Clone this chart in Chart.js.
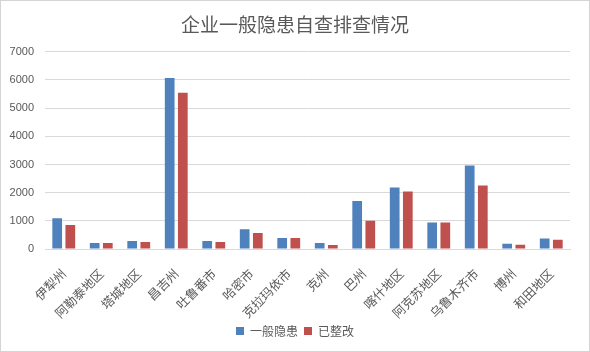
<!DOCTYPE html>
<html>
<head>
<meta charset="utf-8">
<script src="https://cdn.jsdelivr.net/npm/chart.js@4.4.1/dist/chart.umd.min.js"></script>
<style>
  html, body { margin: 0; padding: 0; background: #fff; }
  #wrap { width: 588px; height: 350px; border: 1px solid #d4d4d4; }
  canvas { display: block; }
</style>
</head>
<body>
<div id="wrap"><canvas id="chart" width="588" height="350"></canvas></div>
<script>
const TITLE      = "企业一般隐患自查排查情况";
const REGIONS    = ["伊犁州", "阿勒泰地区", "塔城地区", "昌吉州", "吐鲁番市", "哈密市", "克拉玛依市", "克州",
                    "巴州", "喀什地区", "阿克苏地区", "乌鲁木齐市", "博州", "和田地区"];
const HAZARDS    = [1090, 210, 280, 6070, 280, 700, 390, 210, 1700, 2180, 940, 2960, 190, 370];
const RECTIFIED  = [850, 210, 250, 5550, 250, 570, 390, 140, 1000, 2040, 940, 2250, 150, 330];
const Y_TICKS    = [0, 1000, 2000, 3000, 4000, 5000, 6000, 7000];

const TEXT_GREY = "#595959";
const GRID_GREY = "#d9d9d9";

const ctx = document.getElementById("chart").getContext("2d");
new Chart(ctx, {
  type: "bar",
  data: {
    labels: REGIONS,
    datasets: [
      { label: "一般隐患", data: HAZARDS,   backgroundColor: "#4f81bd" },
      { label: "已整改",   data: RECTIFIED, backgroundColor: "#c0504d" }
    ]
  },
  options: {
    responsive: false,
    animation: false,
    categoryPercentage: 0.7,
    barPercentage: 0.74,
    layout: { padding: { left: 0, right: 0, top: 0, bottom: 4 } },
    plugins: {
      title: {
        display: true,
        text: TITLE,
        color: TEXT_GREY,
        font: { family: "Noto Sans CJK SC", size: 19, weight: "normal" },
        padding: { top: 12, bottom: 16 }
      },
      legend: {
        position: "bottom",
        labels: {
          color: TEXT_GREY,
          font: { family: "Noto Sans CJK SC", size: 12 },
          boxWidth: 8,
          boxHeight: 8,
          padding: 6
        }
      },
      tooltip: { enabled: false }
    },
    scales: {
      y: {
        min: 0,
        max: 7000,
        afterBuildTicks: axis => { axis.ticks = Y_TICKS.map(v => ({ value: v })); },
        afterFit: axis => { axis.width = 44; },
        grid: { color: GRID_GREY, drawTicks: false },
        border: { display: false },
        ticks: {
          color: TEXT_GREY,
          padding: 11,
          callback: v => String(v),
          font: { family: "Liberation Sans", size: 11 }
        }
      },
      // empty right-hand spacer so title and legend stay centred on the whole canvas
      yRight: {
        position: "right",
        afterFit: axis => { axis.width = 19; },
        grid: { display: false },
        border: { display: false },
        ticks: { display: false }
      },
      x: {
        afterFit: axis => { axis.height = 70; },
        grid: { display: false },
        border: { color: GRID_GREY },
        ticks: {
          color: TEXT_GREY,
          minRotation: 45,
          maxRotation: 45,
          autoSkip: false,
          padding: 9,
          font: { family: "Noto Sans CJK SC", size: 12.5 }
        }
      }
    }
  }
});
</script>
</body>
</html>
